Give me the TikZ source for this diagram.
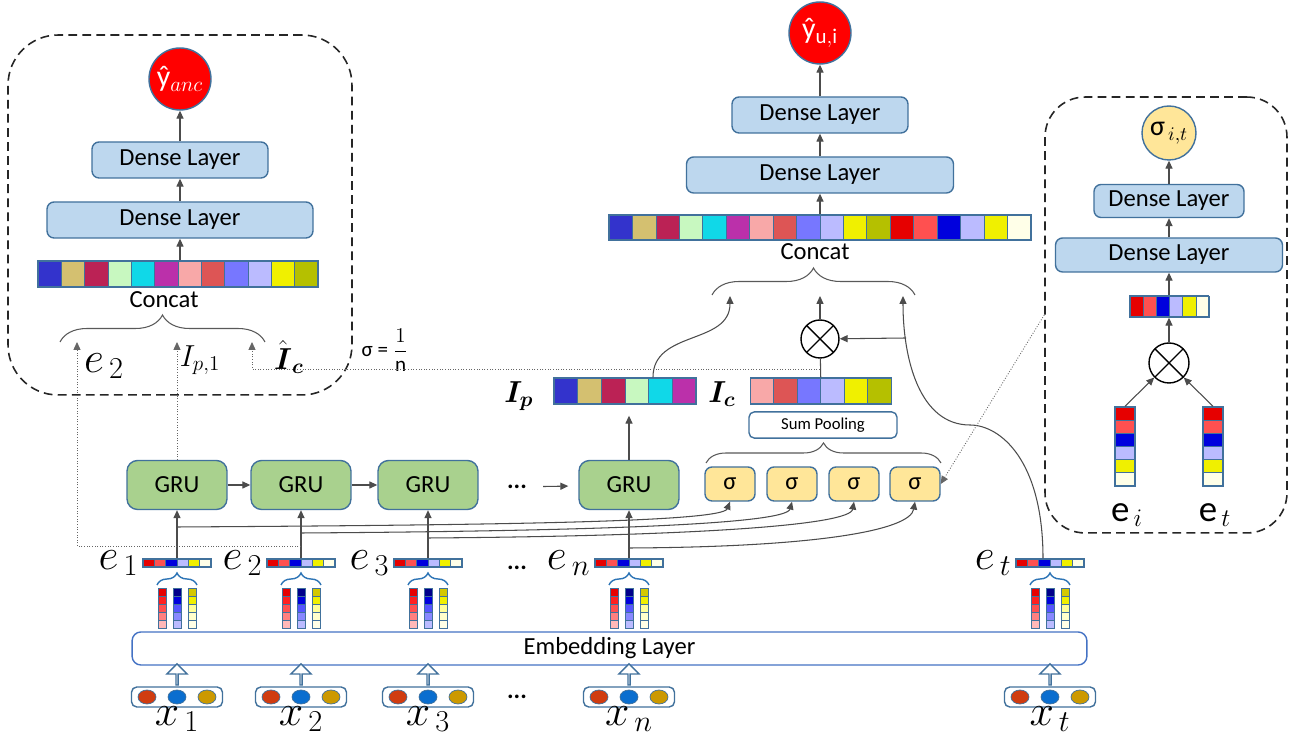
\documentclass[tikz,border=0pt]{standalone}
\usepackage{amsmath}
\usepackage{amsfonts}
\usepackage{fontspec}
\setmainfont{Carlito}
\usepackage{tikz}
\usetikzlibrary{positioning,arrows.meta,shapes.arrows,decorations.pathreplacing}

\definecolor{bdr}{HTML}{41719C}
\definecolor{densefill}{HTML}{BDD7EE}
\definecolor{grufill}{HTML}{A9D18E}
\definecolor{sigfill}{HTML}{FFE699}
\definecolor{embblue}{HTML}{4472C4}
\definecolor{brblue}{HTML}{2E75B6}
\definecolor{v1}{HTML}{3333CC}
\definecolor{v2}{HTML}{D4C070}
\definecolor{v3}{HTML}{BB2255}
\definecolor{v4}{HTML}{C8F8C0}
\definecolor{v5}{HTML}{10D8E8}
\definecolor{v6}{HTML}{BB30AA}
\definecolor{v7}{HTML}{F8A8A8}
\definecolor{v8}{HTML}{DD5555}
\definecolor{v9}{HTML}{7777FF}
\definecolor{v10}{HTML}{BBBBFF}
\definecolor{v11}{HTML}{F0F000}
\definecolor{v12}{HTML}{B5C000}
\definecolor{v13}{HTML}{E60000}
\definecolor{v14}{HTML}{FF5050}
\definecolor{v15}{HTML}{0000DD}
\definecolor{v18}{HTML}{FFFFE8}
\definecolor{r1}{HTML}{E60000}
\definecolor{r2}{HTML}{FF2020}
\definecolor{r3}{HTML}{FF5050}
\definecolor{r4}{HTML}{FF8080}
\definecolor{r5}{HTML}{FFB8B8}
\definecolor{b1}{HTML}{00008B}
\definecolor{b2}{HTML}{0000DD}
\definecolor{b3}{HTML}{5555FF}
\definecolor{b4}{HTML}{8888FF}
\definecolor{b5}{HTML}{BBBBFF}
\definecolor{y1}{HTML}{D4C800}
\definecolor{y2}{HTML}{F0F000}
\definecolor{y3}{HTML}{FFFF99}
\definecolor{y4}{HTML}{FFFFCC}
\definecolor{y5}{HTML}{FFFFE6}
\definecolor{inred}{HTML}{D03C10}
\definecolor{inblue}{HTML}{0A6ECF}
\definecolor{ingold}{HTML}{CC9900}

\begin{document}
\begin{tikzpicture}[x=0.02cm, y=-0.02cm, >={Triangle[length=4.5pt,width=4pt]},
  font=\fontsize{14}{16}\selectfont,
  dlayer/.style={draw=bdr, fill=densefill, line width=0.8pt, rounded corners=4pt, minimum height=0.72cm},
  gru/.style={draw=bdr, fill=grufill, line width=0.8pt, rounded corners=6pt, minimum width=2cm, minimum height=0.98cm},
  sig/.style={draw=bdr, fill=sigfill, line width=0.8pt, rounded corners=4pt, minimum width=1cm, minimum height=0.68cm},
  pred/.style={circle, draw=bdr, line width=0.8pt, fill=red, text=white, minimum size=1.24cm, inner sep=0pt,
    font=\fontsize{17}{19}\selectfont},
  prod/.style={circle, draw, line width=0.8pt, minimum size=0.76cm, path picture={
      \draw (path picture bounding box.north west) -- (path picture bounding box.south east)
            (path picture bounding box.north east) -- (path picture bounding box.south west);}},
  vec/.style={draw=bdr, line width=0.8pt, inner sep=0pt},
  cell/.style={draw=bdr, line width=0.4pt},
  lbl/.style={font=\fontsize{23}{25}\selectfont, inner sep=1pt},
  ilbl/.style={font=\fontsize{18}{20}\selectfont, inner sep=1pt},
  link/.style={draw=black!70, line width=0.6pt},
  dotline/.style={draw=black!60, line width=0.5pt, densely dotted},
  brc/.style={decorate, decoration={brace, amplitude=#1}, draw=black!65, line width=0.6pt},
  dbox/.style={draw=black!85, line width=0.9pt, dash pattern=on 5pt off 3pt, rounded corners=1cm},
  inbox/.style={draw=bdr, line width=0.8pt, rounded corners=3pt, minimum width=1.82cm, minimum height=0.4cm},
  harrow/.style={single arrow, draw=bdr, fill=white, line width=0.8pt, shape border rotate=90,
    minimum height=0.42cm, minimum width=0.4cm, single arrow head extend=0.12cm, single arrow tip angle=90, inner sep=0pt}
]
\useasboundingbox[fill=white] (0,0) rectangle (1296,742);

% side boxes
\node[dbox, minimum width=6.88cm, minimum height=7.2cm] (lbox) at (180,215) {};
\node[dbox, minimum width=4.84cm, minimum height=8.72cm, rounded corners=0.8cm] (rbox) at (1166,315) {};

% left box
\node[pred] (yanc) at (180,79) {ŷ$_{anc}$};
\node[dlayer, minimum width=3.52cm] (ld2) at (180,160) {Dense Layer};
\node[dlayer, minimum width=5.32cm] (ld1) at (180,220) {Dense Layer};
\foreach \c [count=\i] in {v1,v2,v3,v4,v5,v6,v7,v8,v9,v10,v11,v12}
  \draw[cell, fill=\c] ({38+(\i-1)*23.33},261) rectangle ++(23.33,26);
\node[vec, minimum width=5.6cm, minimum height=0.52cm] (lcat) at (178,274) {};
\node (lcc) at (164,300) {Concat};
\draw[brc=0.54cm] (60,342) -- (265,342);
\coordinate (lt1) at (77,342);
\coordinate (lt2) at (177,342);
\coordinate (lt3) at (252,342);
\node[lbl] (lbe2) at (104,366) {$e_{\,2}$};
\node[ilbl] (lip) at (200,360) {$I_{p,1}$};
\node[ilbl] (lic) at (289,357) {$\hat{\boldsymbol{I}}_{\boldsymbol{c}}$};
\node[font=\fontsize{12}{14}\selectfont] (sgn) at (385,350) {σ = $\dfrac{1}{\mathrm{n}}$};
\draw[link,->] (lcat.north -| ld1.south) -- (ld1);
\draw[link,->] (ld1) -- (ld2);
\draw[link,->] (ld2) -- (yanc);

% main output
\node[pred] (yui) at (820,33) {ŷ$_{\mathrm{u,i}}$};
\node[dlayer, minimum width=3.52cm] (md2) at (820,115) {Dense Layer};
\node[dlayer, minimum width=5.34cm] (md1) at (820,175) {Dense Layer};
\foreach \c [count=\i] in {v1,v2,v3,v4,v5,v6,v7,v8,v9,v10,v11,v12,v13,v14,v15,v10,v11,v18}
  \draw[cell, fill=\c] ({609+(\i-1)*23.44},215) rectangle ++(23.44,25);
\node[vec, minimum width=8.44cm, minimum height=0.5cm] (mcat) at (820,227.5) {};
\node (mcc) at (815,252) {Concat};
\draw[brc=0.54cm] (712,295) -- (915,295);
\coordinate (mt1) at (730,296);
\coordinate (mt2) at (820,296);
\coordinate (mt3) at (903,296);
\draw[link,->] (mcat) -- (md1);
\draw[link,->] (md1) -- (md2);
\draw[link,->] (md2) -- (yui);

\foreach \c [count=\i] in {v1,v2,v3,v4,v5,v6}
  \draw[cell, fill=\c] ({554+(\i-1)*23.67},378) rectangle ++(23.67,26);
\node[vec, minimum width=2.84cm, minimum height=0.52cm] (ip) at (625,391) {};
\foreach \c [count=\i] in {v7,v8,v9,v10,v11,v12}
  \draw[cell, fill=\c] ({750+(\i-1)*23.5},378) rectangle ++(23.5,26);
\node[vec, minimum width=2.82cm, minimum height=0.52cm] (ic) at (821,391) {};
\node[ilbl] (ipl) at (519,396) {$\boldsymbol{I_p}$};
\node[ilbl] (icl) at (722,394) {$\boldsymbol{I_c}$};
\node[prod] (ot) at (820,339) {};
\node[draw=bdr, line width=0.8pt, rounded corners=3pt, minimum width=2.96cm, minimum height=0.46cm,
  font=\fontsize{9.5}{11}\selectfont] (sp) at (823,425) {Sum Pooling};

\foreach \px [count=\i] in {730,792,854,915}
  \node[sig] (s\i) at (\px,484) {σ};
\draw[brc=0.4cm] (706,463) -- (941,463);

% recurrent part
\node[gru] (g1) at (177,485) {GRU};
\node[gru] (g2) at (301,485) {GRU};
\node[gru] (g3) at (428,485) {GRU};
\node (gd) at (517,487) {\textbf{...}};
\node[gru] (gn) at (629,485) {GRU};
\draw[link,->] (g1) -- (g2);
\draw[link,->] (g2) -- (g3);
\draw[link,->, shorten <=0.2cm, shorten >=0.2cm] (gd) -- (gn);
\node (ed) at (517,568) {\textbf{...}};
\node (xd) at (517,697) {\textbf{...}};

% embedding layer
\node[draw=embblue, line width=0.8pt, rounded corners=5pt, minimum width=19.1cm, minimum height=0.58cm] (emb) at (609.5,648.5) {Embedding Layer};

\foreach \px/\k in {177/1,301/2,428/3,629/n,1050/t}{
  \foreach \dx/\cl in {-15/r,0/b,15/y}
    \foreach \j in {1,...,5}
      \draw[cell, fill=\cl\j] ({\px+\dx-4},{580+\j*8}) rectangle ++(8,8);
  \draw[brc=0.24cm, draw=brblue, line width=0.8pt] ({\px-20},585) -- ({\px+20},585);
  \foreach \c [count=\j] in {v13,v14,v15,v10,v11,v18}
    \draw[cell, fill=\c] ({\px-34+(\j-1)*11.33},559) rectangle ++(11.33,8);
  \node[vec, minimum width=1.36cm, minimum height=0.16cm] (e\k) at (\px,563) {};
  \node[lbl, left=1pt of e\k] (le\k) {$e_{\,\k}$};
  \node[inbox] (x\k) at (\px,697) {};
  \filldraw[fill=inred, draw=bdr, line width=0.4pt] ([xshift=-0.6cm]x\k.center) ellipse [x radius=0.18cm, y radius=0.14cm];
  \filldraw[fill=inblue, draw=bdr, line width=0.4pt] (x\k.center) ellipse [x radius=0.18cm, y radius=0.14cm];
  \filldraw[fill=ingold, draw=bdr, line width=0.4pt] ([xshift=0.6cm]x\k.center) ellipse [x radius=0.18cm, y radius=0.14cm];
  \node[lbl, below=-2pt of x\k] (lx\k) {$x_{\,\k}$};
  \node[harrow] (ha\k) at (\px,675) {};
}

\draw[link,->] (e1) -- (g1);
\draw[link,->] (e2) -- (g2);
\draw[link,->] (e3) -- (g3);
\draw[link,->] (en) -- (gn);

% attention inputs
\coordinate (j1) at (177,527);
\coordinate (j2) at (301,533);
\coordinate (j3) at (428,538);
\coordinate (jn) at (629,548);
\draw[link,->] (j1) .. controls (500,525) and (722,522) .. (s1.south);
\draw[link,->] (j2) .. controls (600,531) and (786,524) .. (s2.south);
\draw[link,->] (j3) .. controls (700,536) and (850,525) .. (s3.south);
\draw[link,->] (jn) .. controls (820,547) and (910,530) .. (s4.south);

% to the concat layers
\draw[link,->, shorten >=0.22cm] (gn.north) -- (gn.north |- ip.south);
\draw[link,->] ([xshift=0.56cm]ip.north) .. controls (653,330) and (730,345) .. (mt1);
\draw[link,->] (ot) -- (mt2);
\draw[link] (ot) -- (ic);
\draw[link,->] ([xshift=-0.14cm]et.north) .. controls (1043,460) and (1000,425) .. (970,425)
  .. controls (920,425) and (903,360) .. (mt3);
\coordinate (jt) at (906,338);
\draw[link,->] (jt) -- (ot);

% dotted links into the left box
\coordinate (jd) at (301,546);
\coordinate (jc) at (820,369);
\draw[dotline,->] (jd) -| (lt1);
\draw[dotline,->] (g1) -- (lt2);
\draw[dotline,->] (jc) -| (lt3);
\draw[dotline,->] (rbox.west) -- (s4.east);

% right box
\node[circle, draw=bdr, line width=0.8pt, fill=sigfill, minimum size=1.08cm, inner sep=0pt,
  font=\fontsize{16}{18}\selectfont] (sit) at (1169,133) {σ$_{\,i,t}$};
\node[dlayer, minimum width=3cm, minimum height=0.66cm] (rd2) at (1169,201) {Dense Layer};
\node[dlayer, minimum width=4.54cm, minimum height=0.68cm] (rd1) at (1169,255) {Dense Layer};
\foreach \c [count=\i] in {v13,v14,v15,v10,v11,v18}
  \draw[cell, fill=\c] ({1130+(\i-1)*13.17},296) rectangle ++(13.17,21);
\node[vec, minimum width=1.58cm, minimum height=0.42cm] (rv) at (1169,306.5) {};
\node[prod, minimum size=0.8cm] (rot) at (1169,363) {};
\foreach \c [count=\i] in {v13,v14,v15,v10,v11,v18}{
  \draw[cell, fill=\c] (1115,{407+(\i-1)*13.17}) rectangle ++(20,13.17);
  \draw[cell, fill=\c] (1203,{407+(\i-1)*13.17}) rectangle ++(20,13.17);
}
\node[vec, minimum width=0.4cm, minimum height=1.58cm] (vi) at (1125,446.5) {};
\node[vec, minimum width=0.4cm, minimum height=1.58cm] (vt) at (1213,446.5) {};
\node[font=\fontsize{21}{23}\selectfont] (li) at (1127,515) {e$_{\,i}$};
\node[font=\fontsize{21}{23}\selectfont] (lt) at (1215,515) {e$_{\,t}$};
\draw[link,->] (vi.north) -- (rot);
\draw[link,->] (vt.north) -- (rot);
\draw[link,->] (rot) -- (rv);
\draw[link,->] (rv) -- (rd1);
\draw[link,->] (rd1) -- (rd2);
\draw[link,->] (rd2) -- (sit);
\end{tikzpicture}
\end{document}
